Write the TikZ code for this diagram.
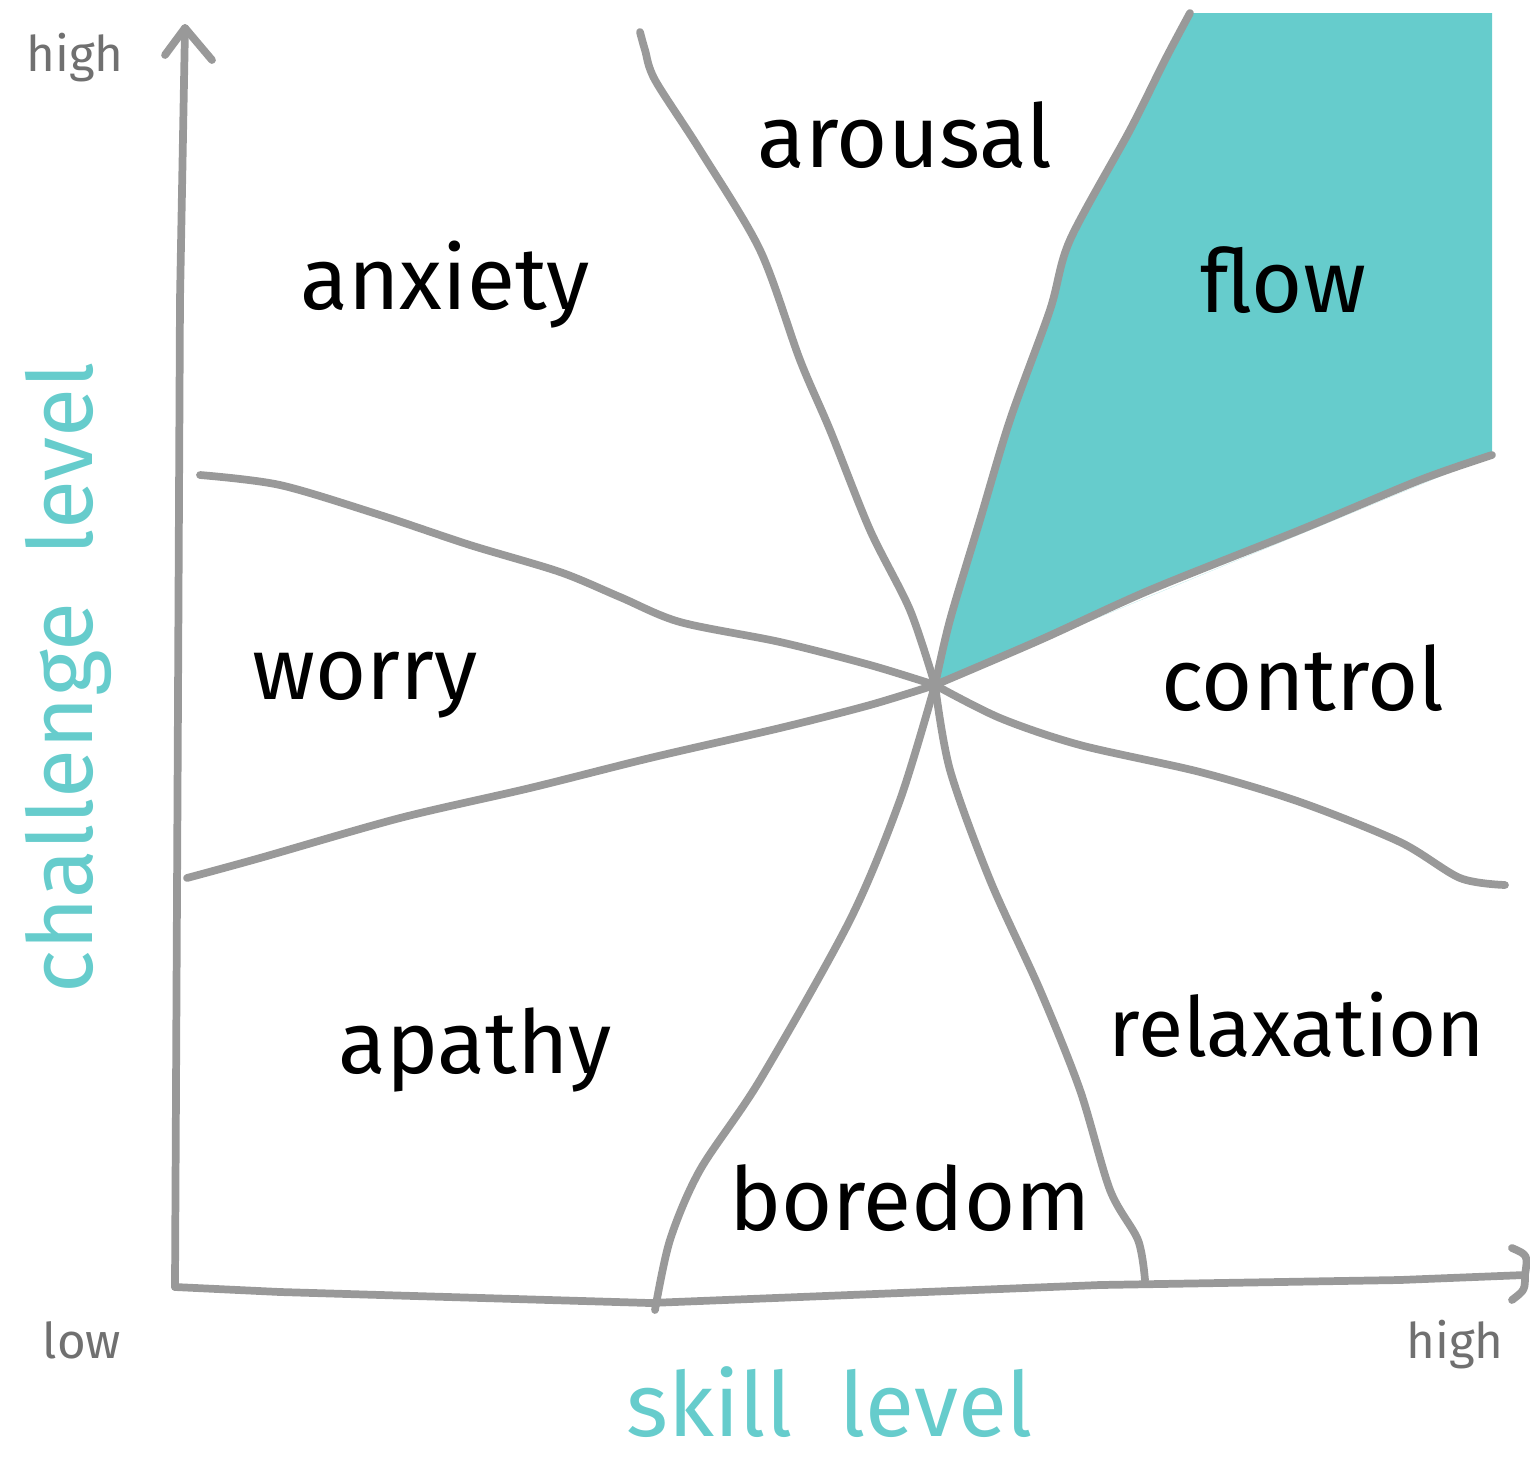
\documentclass[tikz,border=0pt]{standalone}
\usepackage{fontspec}
\setmainfont{Fira Sans}
\definecolor{teal}{HTML}{66CCCC}
\definecolor{linegray}{HTML}{999999}
\definecolor{labelgray}{HTML}{707070}
\begin{document}
\begin{tikzpicture}[x=0.1mm,y=-0.1mm,
  sketch/.style={draw=linegray,line width=2.2pt,line cap=round,line join=round},
  zone/.style={font=\fontsize{25}{30}\selectfont,text=black,inner sep=0pt},
  endlabel/.style={font=\fontsize{14}{17}\selectfont,text=labelgray,inner sep=0pt},
  axislabel/.style={font=\fontsize{25.5}{30}\selectfont,text=teal,inner sep=0pt}]
\useasboundingbox (0,0) rectangle (1530,1458);
\coordinate (c) at (935,685);
\coordinate (o) at (175,1287);
\coordinate (ytop) at (185,28);
\coordinate (xend) at (1525,1275);
% flow fill
\fill[teal] (c) plot[smooth] coordinates {(935,685) (950,620) (980,520) (1010,420) (1050,310) (1070,240) (1130,130) (1165,60) (1190,13)}
  -- (1492,13) -- (1492,455)
  plot[smooth] coordinates {(1492,455) (1420,480) (1300,530) (1150,590) (1040,640) (935,685)} -- cycle;
% axes
\draw[sketch] (o) -- (178,700) -- (180,300) -- (ytop);
\draw[sketch] (165,55) -- (ytop) -- (212,60);
\draw[sketch] (o) -- (280,1292) -- (650,1303) -- (1100,1285) -- (1400,1280) -- (xend);
\draw[sketch] (1512,1248) .. controls (1528,1255) .. (xend) .. controls (1525,1290) .. (1512,1300);
% boundary lines from centre
\draw[sketch] plot[smooth] coordinates {(c) (910,610) (870,530) (830,430) (800,360) (760,250) (700,150) (655,80) (645,50) (640,32)};
\draw[sketch] plot[smooth] coordinates {(c) (950,620) (980,520) (1010,420) (1050,310) (1070,240) (1130,130) (1165,60) (1190,13)};
\draw[sketch] plot[smooth] coordinates {(c) (1040,640) (1150,590) (1300,530) (1420,480) (1492,455)};
\draw[sketch] plot[smooth] coordinates {(c) (870,665) (780,642) (680,622) (620,597) (560,572) (470,545) (380,515) (280,485) (200,475)};
\draw[sketch] plot[smooth] coordinates {(c) (870,705) (780,728) (650,758) (530,788) (400,818) (260,858) (187,878)};
\draw[sketch] plot[smooth] coordinates {(c) (900,800) (850,920) (760,1080) (700,1170) (670,1240) (655,1310)};
\draw[sketch] plot[smooth] coordinates {(c) (950,770) (990,880) (1040,990) (1080,1090) (1110,1190) (1138,1240) (1145,1280)};
\draw[sketch] plot[smooth] coordinates {(c) (1000,718) (1080,745) (1200,772) (1300,802) (1400,842) (1460,878) (1505,885)};
% zone labels
\node[zone] (arousal) at (905,135) {arousal};
\node[zone] (anxiety) at (445,285) {anxiety};
\node[zone] (flow) at (1283,280) {flow};
\node[zone] (worry) at (365,685) {worry};
\node[zone] (control) at (1303,678) {control};
\node[zone] (apathy) at (475,1050) {apathy};
\node[zone,font=\fontsize{23.5}{28}\selectfont] (relaxation) at (1297,1025) {relaxation};
\node[zone] (boredom) at (910,1198) {boredom};
% end labels
\node[endlabel] (yhigh) at (75,58) {high};
\node[endlabel] (xlow) at (82,1340) {low};
\node[endlabel] (xhigh) at (1455,1345) {high};
% axis labels
\node[axislabel] (skill) at (830,1402) {skill\ \ level};
\node[axislabel,rotate=90] (challenge) at (68,678) {challenge\ \ level};
\end{tikzpicture}
\end{document}
